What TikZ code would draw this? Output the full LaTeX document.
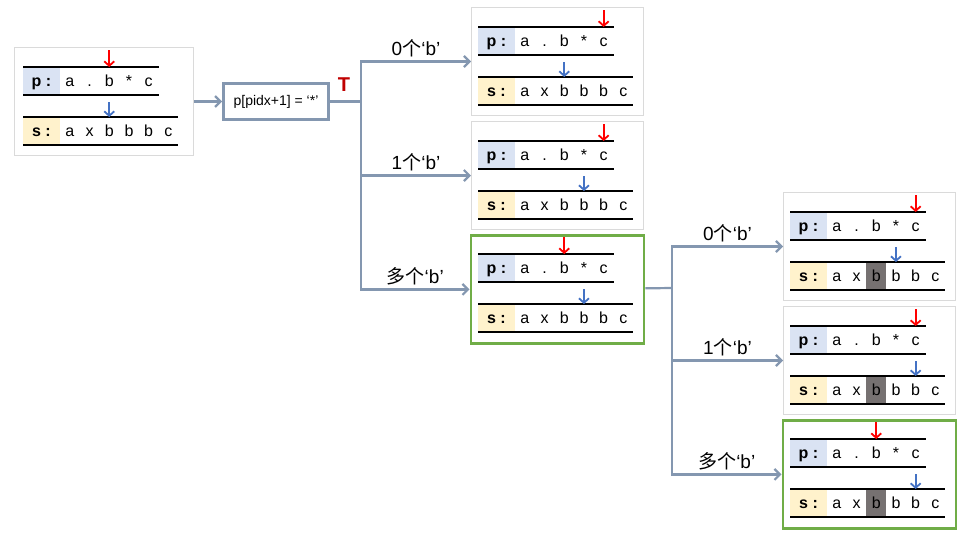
\documentclass[tikz,border=0pt]{standalone}
\usepackage{fontspec}
\setmainfont{Liberation Sans}
\newfontfamily\cjk{Noto Sans CJK SC}
\usepackage{pgf,tikz}
\usepackage{color}
\usetikzlibrary{arrows,arrows.meta}

\definecolor{pblue}{HTML}{DAE3F3}
\definecolor{syellow}{HTML}{FFF2CC}
\definecolor{linkgray}{HTML}{8497B0}
\definecolor{ptrblue}{HTML}{4472C4}
\definecolor{okgreen}{HTML}{70AD47}
\definecolor{darkred}{HTML}{C00000}
\definecolor{cellgray}{HTML}{767171}
\definecolor{framegray}{HTML}{DADADA}

\tikzset{
	frame/.style={draw=framegray,line width=1pt,anchor=north west,inner sep=0,minimum width=172,minimum height=108},
	okframe/.style={draw=okgreen,line width=2.8pt,minimum width=173,minimum height=108,xshift=-1.5pt},
	row/.style={black,line width=1.2pt},
	chr/.style={inner sep=0,text height=12pt,text depth=2pt,font=\fontsize{16}{18}\selectfont},
	redptr/.style={red,line width=1.8pt,-{Straight Barb[length=4.5pt,width=10pt]}},
	blueptr/.style={ptrblue,line width=1.8pt,-{Straight Barb[length=4.5pt,width=10pt]}}
}

% #1 name, #2 origin, #3 red ptr, #4 blue ptr, #5 grey cell (-1 = none), #6 frame
\newcommand{\strpanel}[6]{
\begin{scope}[shift={(#2)}]
	\node[frame,#6] (#1) at (-7,-20) {};
	\fill[pblue] (0,0) rectangle (37,28);
	\fill[syellow] (0,50) rectangle (37,78);
	\ifnum#5>-1 \fill[cellgray] (37+19.7*#5,50) rectangle +(19.7,28); \fi
	\draw[row] (0,0) -- (135.5,0) (0,28) -- (135.5,28);
	\draw[row] (0,50) -- (155.2,50) (0,78) -- (155.2,78);
	\node[chr] at (18.5,14) {\textbf{p :}};
	\node[chr] at (18.5,64) {\textbf{s :}};
	\foreach \ch [count=\i from 0] in {a,.,b,*,c}
		\node[chr] at (46.85+19.7*\i,14) {\ch};
	\foreach \ch [count=\i from 0] in {a,x,b,b,b,c}
		\node[chr] at (46.85+19.7*\i,64) {\ch};
	\draw[redptr] (46.85+19.7*#3,-17) -- (46.85+19.7*#3,0);
	\draw[blueptr] (46.85+19.7*#4,35) -- (46.85+19.7*#4,50);
\end{scope}
}

\begin{document}
\begin{tikzpicture}[x=1pt,y=-1pt,>={Straight Barb[length=5.5pt,width=11pt]},
	link/.style={draw=linkgray,line width=2.2pt},
	cond/.style={draw=linkgray,line width=2.8pt,minimum width=105,minimum height=36,font=\fontsize{14}{16}\selectfont},
	lbl/.style={font=\fontsize{19}{21}\selectfont,above},
	tmark/.style={darkred,font=\fontsize{20}{22}\selectfont\bfseries}]
	\useasboundingbox (0,0) rectangle (964,539);

	\strpanel{start}{23,67}{2}{2}{-1}{minimum width=179,xshift=-2pt}
	\strpanel{zeroA}{478,27}{4}{2}{-1}{}
	\strpanel{oneA}{478,141}{4}{3}{-1}{}
	\strpanel{manyA}{478,254}{2}{3}{-1}{okframe}
	\strpanel{zeroB}{790,212}{4}{3}{2}{}
	\strpanel{oneB}{790,326}{4}{4}{2}{}
	\strpanel{manyB}{790,439}{2}{4}{2}{okframe}

	\node[cond] (cond) at (276,101.5) {p[pidx+1] = ‘*’};
	\node[tmark] (tmark) at (344,85) {T};
	\coordinate (fork1) at (361,101.5);
	\coordinate (fork2) at (672,288);

	\draw[link,->] (start) -- (cond);
	\draw[link] (cond) -- (fork1);
	\draw[link,->] (fork1) |- (zeroA) node[lbl,pos=.75] {0{\cjk 个}‘b’};
	\draw[link,->] (fork1) |- (oneA) node[lbl,pos=.75] {1{\cjk 个}‘b’};
	\draw[link,->] (fork1) |- (manyA) node[lbl,pos=.75] {{\cjk 多个}‘b’};

	\draw[link] (manyA) -- (fork2);
	\draw[link,->] (fork2) |- (zeroB) node[lbl,pos=.75] {0{\cjk 个}‘b’};
	\draw[link,->] (fork2) |- (oneB) node[lbl,pos=.75] {1{\cjk 个}‘b’};
	\draw[link,->] (fork2) |- (manyB) node[lbl,pos=.75] {{\cjk 多个}‘b’};
\end{tikzpicture}
\end{document}
